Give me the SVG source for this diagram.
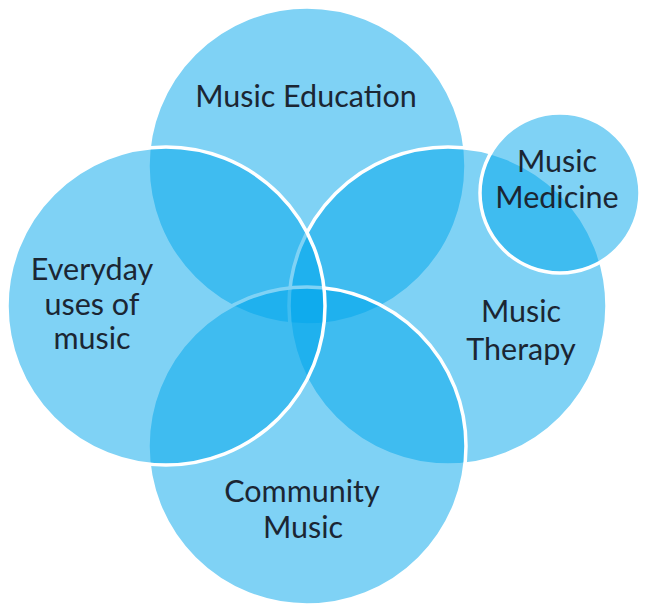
<svg xmlns="http://www.w3.org/2000/svg" width="654" height="611" viewBox="0 0 654 611">
  <style>
    .c { fill: #00a5eb; fill-opacity: 0.5; stroke: #ffffff; stroke-width: 3.5; }
    .t { font-family: Lato, "Open Sans", "Liberation Sans", sans-serif; font-size: 30.5px; fill: #1b2633; text-anchor: middle; }
  </style>
  <rect width="654" height="611" fill="#ffffff"/>
  <g id="music-education">
    <circle class="c" cx="307" cy="166" r="159"/>
    <text class="t" x="306" y="107">Music Education</text>
  </g>
  <g id="music-therapy">
    <circle class="c" cx="448" cy="306" r="159"/>
    <text class="t" x="521" y="322">Music</text>
    <text class="t" x="521" y="360">Therapy</text>
  </g>
  <g id="community-music">
    <circle class="c" cx="307" cy="446" r="159"/>
    <text class="t" x="302" y="502">Community</text>
    <text class="t" x="303" y="538">Music</text>
  </g>
  <g id="everyday-uses">
    <circle class="c" cx="166" cy="306" r="159"/>
    <text class="t" x="92" y="280">Everyday</text>
    <text class="t" x="92" y="315">uses of</text>
    <text class="t" x="92" y="349">music</text>
  </g>
  <g id="music-medicine">
    <circle class="c" cx="560" cy="193" r="80"/>
    <text class="t" x="557" y="172">Music</text>
    <text class="t" x="557" y="208">Medicine</text>
  </g>
  <g id="connectors"/>
</svg>
